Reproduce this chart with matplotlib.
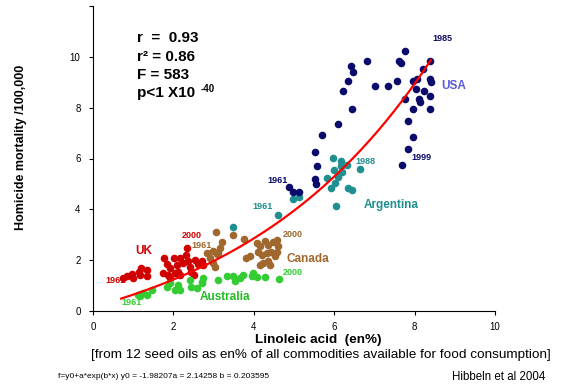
import numpy as np
import matplotlib.pyplot as plt

plt.rcParams["font.family"] = ["Liberation Sans", "DejaVu Sans"]

# 数据
usa_x = [7.76, 8.38, 6.82, 7.60, 7.67, 6.41, 6.48, 8.22, 8.38, 8.40, 6.35, 7.55,
         7.97, 8.05, 6.23, 7.02, 7.35, 8.03, 8.23, 8.38, 7.77, 8.12, 8.13, 6.45,
         7.97, 8.38, 7.84, 6.09, 5.70, 7.95, 7.84, 5.52, 7.68, 5.56, 5.53, 5.55,
         4.87, 4.97, 5.12]
usa_y = [10.24, 9.84, 9.84, 9.84, 9.74, 9.64, 9.42, 9.53, 9.13, 9.00, 9.04, 9.04,
         9.04, 9.13, 8.64, 8.84, 8.84, 8.74, 8.64, 8.45, 8.34, 8.34, 8.23, 7.94,
         7.94, 7.94, 7.46, 7.35, 6.94, 6.85, 6.36, 6.26, 5.74, 5.70, 5.18, 4.98,
         4.87, 4.68, 4.68]

arg_x = [5.97, 6.17, 6.33, 6.16, 5.99, 6.19, 6.63, 5.83, 6.09, 6.02, 5.93, 6.35,
         6.44, 6.04, 4.97, 5.12, 4.59, 3.49]
arg_y = [6.01, 5.90, 5.73, 5.70, 5.55, 5.47, 5.60, 5.24, 5.28, 5.02, 4.82, 4.85,
         4.76, 4.15, 4.41, 4.49, 3.79, 3.31]

uk_x = [0.75, 0.85, 0.96, 1.00, 1.14, 1.19, 1.34, 1.35, 1.17, 1.77, 1.83, 1.92,
        1.87, 1.92, 2.02, 2.08, 2.12, 2.04, 2.16, 2.25, 2.33, 2.31, 2.37, 2.41,
        2.45, 2.50, 2.54, 2.62, 2.70, 2.74, 2.16, 1.75]
uk_y = [1.29, 1.36, 1.46, 1.29, 1.55, 1.69, 1.62, 1.36, 1.42, 2.08, 1.84, 1.69,
        1.42, 1.29, 2.08, 1.82, 1.55, 1.49, 2.08, 1.88, 2.48, 2.21, 1.95, 1.75,
        1.55, 1.42, 2.02, 1.84, 1.95, 1.82, 1.42, 1.49]

can_x = [3.06, 3.49, 3.76, 3.20, 3.16, 2.98, 2.83, 3.08, 2.99, 3.03, 3.81, 3.91,
         4.07, 4.15, 4.28, 4.36, 4.49, 4.57, 4.61, 4.44, 4.32, 4.20, 4.24, 4.15,
         4.36, 4.40, 4.53, 4.57, 4.11, 3.12, 2.91]
can_y = [3.10, 3.00, 2.83, 2.70, 2.48, 2.38, 2.28, 2.25, 1.88, 1.75, 2.08, 2.17,
         2.68, 2.54, 2.74, 2.61, 2.70, 2.81, 2.54, 2.34, 2.28, 2.21, 1.88, 1.82,
         1.95, 1.82, 2.15, 2.34, 2.34, 2.28, 2.08]

aus_x = [1.13, 1.25, 1.46, 1.17, 1.34, 1.83, 1.92, 2.04, 2.12, 2.16, 2.41, 2.45,
         2.58, 2.70, 2.74, 2.70, 3.12, 3.33, 3.49, 3.53, 3.66, 3.74, 3.95, 3.99,
         4.07, 4.28, 4.63]
aus_y = [0.63, 0.70, 0.83, 0.60, 0.63, 0.96, 1.09, 0.83, 1.03, 0.83, 1.23, 0.96,
         0.90, 1.09, 1.29, 1.16, 1.23, 1.36, 1.36, 1.20, 1.29, 1.42, 1.36, 1.49,
         1.33, 1.33, 1.26]

# 拟合参数 f = y0 + a*exp(b*x)
y0, a, b = -1.98207, 2.14258, 0.203595

fig = plt.figure(figsize=(5.67, 3.89), dpi=100)
ax = fig.add_axes([93 / 567, 1 - 311 / 389, 402 / 567, 305 / 389])

ms = 30
ax.scatter(uk_x, uk_y, s=ms, color="#d00000", linewidths=0, zorder=3)
ax.scatter(aus_x, aus_y, s=ms, color="#33cc33", linewidths=0, zorder=3)
ax.scatter(can_x, can_y, s=ms, color="#a0672e", linewidths=0, zorder=3)
ax.scatter(arg_x, arg_y, s=ms, color="#1f8f8f", linewidths=0, zorder=3)
ax.scatter(usa_x, usa_y, s=ms, color="#0b0b6b", linewidths=0, zorder=3)

xf = np.linspace(0.7, 8.4, 200)
ax.plot(xf, y0 + a * np.exp(b * xf), color="#ff0000", linewidth=1.6, zorder=4)

ax.set_xlim(0, 10)
ax.set_ylim(0, 12)
ax.set_xticks([0, 2, 4, 6, 8, 10])
ax.set_yticks([0, 2, 4, 6, 8, 10, 12])
ax.set_yticklabels(["0", "2", "4", "6", "8", "10", ""])
ax.tick_params(direction="out", length=3, width=0.8, labelsize=7)
ax.tick_params(axis="x", pad=5)
ax.tick_params(axis="y", pad=6)
ax.spines["top"].set_visible(False)
ax.spines["right"].set_visible(False)

# 统计量
st = dict(fontsize=11, fontweight="bold", color="black", va="center")
ax.text(1.09, 10.75, "r  =  0.93", **st)
ax.text(1.09, 10.0, "r² = 0.86", **st)
ax.text(1.09, 9.27, "F = 583", **st)
pt = ax.text(1.09, 8.57, "p<1 X10", **st)
ax.annotate("-40", xy=(1, 0.5), xycoords=pt, xytext=(4, 3),
            textcoords="offset points", fontsize=7, fontweight="bold",
            ha="left", va="center")

# 年份和国家标签
yr = dict(fontsize=6.5, fontweight="bold", ha="center", va="center")
ax.text(8.68, 10.71, "1985", color="#0b0b6b", **yr)
ax.text(8.16, 6.04, "1999", color="#0b0b6b", **yr)
ax.text(4.60, 5.14, "1961", color="#0b0b6b", **yr)
ax.text(6.77, 5.88, "1988", color="#1f8f8f", **yr)
ax.text(4.23, 4.11, "1961", color="#1f8f8f", **yr)
ax.text(2.46, 2.96, "2000", color="#d00000", **yr)
ax.text(0.55, 1.19, "1961", color="#d00000", **yr)
ax.text(2.69, 2.57, "1961", color="#a0672e", **yr)
ax.text(4.98, 3.00, "2000", color="#a0672e", **yr)
ax.text(4.98, 1.50, "2000", color="#33cc33", **yr)
ax.text(0.95, 0.32, "1961", color="#33cc33", **yr)

cn = dict(fontsize=8.5, fontweight="bold", ha="center", va="center")
ax.text(8.98, 8.87, "USA", color="#5a5ad8", **cn)
ax.text(7.41, 4.19, "Argentina", color="#1f8f8f", **cn)
ax.text(1.27, 2.37, "UK", color="#d00000", **cn)
ax.text(5.35, 2.06, "Canada", color="#a0672e", **cn)
ax.text(3.28, 0.55, "Australia", color="#22bb22", **cn)

# 轴标题和注释
fig.text(318 / 567, 1 - 340 / 389, "Linoleic acid  (en%)", fontsize=9.7,
         fontweight="bold", ha="center", va="center")
fig.text(21 / 567, 1 - 147 / 389, "Homicide mortality /100,000", fontsize=9,
         fontweight="bold", ha="center", va="center", rotation=90)
fig.text(321 / 567, 1 - 355 / 389,
         "[from 12 seed oils as en% of all commodities available for food consumption]",
         fontsize=9.7, ha="center", va="center")
fig.text(58 / 567, 1 - 377 / 389,
         "f=y0+a*exp(b*x) y0 = -1.98207a = 2.14258 b = 0.203595",
         fontsize=6, ha="left", va="center")
fig.text(545 / 567, 1 - 377 / 389, "Hibbeln et al 2004", fontsize=8.3,
         ha="right", va="center")

fig.savefig("out.png", dpi=100)
